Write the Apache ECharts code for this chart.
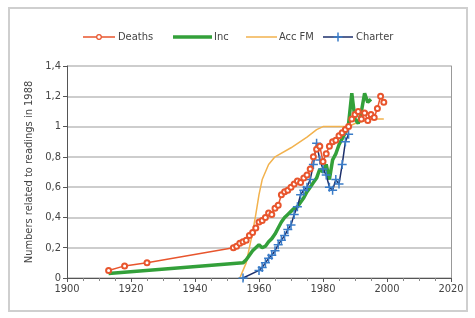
<!DOCTYPE html>
<html><head><meta charset="utf-8">
<script src="https://cdn.jsdelivr.net/npm/echarts@6/dist/echarts.min.js"></script>
<style>html,body{margin:0;padding:0;background:#fff}#c{width:475px;height:318px}</style>
</head><body><div id="c"></div>
<script>
const FONT = '"DejaVu Sans Condensed","Liberation Sans Narrow",sans-serif';
const xTicks = [1900, 1920, 1940, 1960, 1980, 2000, 2020];
const yTicks = [0, 0.2, 0.4, 0.6, 0.8, 1, 1.2, 1.4];
const legendNames = ['Deaths', 'Inc', 'Acc FM', 'Charter'];

const deathsYears = [1913,1918,1925,1952,1953,1954,1955,1956,1957,1958,1959,1960,1961,1962,1963,1964,1965,1966,1967,1968,1969,1970,1971,1972,1973,1974,1975,1976,1977,1978,1979,1980,1981,1982,1983,1984,1985,1986,1987,1988,1989,1990,1991,1992,1993,1994,1995,1996,1997,1998,1999];
const deathsValues = [0.05,0.08,0.10,0.20,0.21,0.23,0.24,0.25,0.28,0.30,0.33,0.37,0.38,0.40,0.43,0.42,0.46,0.48,0.55,0.57,0.58,0.60,0.62,0.64,0.63,0.66,0.68,0.72,0.80,0.85,0.87,0.77,0.82,0.87,0.90,0.91,0.94,0.96,0.98,1.00,1.05,1.08,1.10,1.05,1.09,1.04,1.08,1.06,1.12,1.20,1.16];

const incYears = [1913,1955,1956,1957,1958,1959,1960,1961,1962,1963,1964,1965,1966,1967,1968,1969,1970,1971,1972,1973,1974,1975,1976,1977,1978,1979,1980,1981,1982,1983,1984,1985,1986,1987,1988,1989,1990,1991,1992,1993,1994,1995];
const incValues = [0.03,0.10,0.12,0.15,0.18,0.20,0.22,0.20,0.21,0.24,0.26,0.29,0.33,0.37,0.40,0.42,0.44,0.46,0.47,0.50,0.53,0.57,0.60,0.63,0.66,0.72,0.70,0.75,0.65,0.78,0.82,0.88,0.92,0.96,1.02,1.22,1.05,1.02,1.10,1.22,1.16,1.18];

const accYears = [1954,1956,1957,1958,1959,1960,1961,1963,1965,1970,1975,1978,1980,1988,1990,1995,1999];
const accValues = [0.00,0.10,0.20,0.30,0.42,0.55,0.65,0.75,0.80,0.86,0.93,0.98,1.00,1.00,1.02,1.05,1.05];

const charterYears = [1955,1960,1961,1962,1963,1964,1965,1966,1967,1968,1969,1970,1971,1972,1973,1974,1975,1976,1977,1978,1979,1980,1981,1982,1983,1984,1985,1986,1987,1988];
const charterValues = [0.00,0.05,0.07,0.10,0.13,0.15,0.18,0.22,0.25,0.28,0.32,0.35,0.42,0.47,0.55,0.58,0.60,0.65,0.75,0.89,0.78,0.72,0.68,0.60,0.58,0.65,0.62,0.75,0.90,0.95];

const pair = (xs, ys) => xs.map((x, i) => [x, ys[i]]);
const plusPath = 'path://M0,-10 L0,10 M-10,0 L10,0';

const C_DEATH = '#e8552d', C_INC = '#33a03a', C_ACC = '#f2b24e', C_CH_LINE = '#1c2f6b', C_CH_MARK = '#3a7cc8';

// hand-drawn legend (styling only)
const LY = 37;
const legendText = (x, s) => ({type: 'text', x: x, y: LY, style: {text: s, fill: '#444', font: '11px ' + FONT, textVerticalAlign: 'middle'}});
const legendGraphics = [
  {type: 'rect', shape: {x: 9, y: 8, width: 458, height: 303}, style: {fill: 'none', stroke: '#cfcfcf', lineWidth: 2}},
  {type: 'line', shape: {x1: 83, y1: LY, x2: 115, y2: LY}, style: {stroke: C_DEATH, lineWidth: 1.5}},
  {type: 'circle', shape: {cx: 99, cy: LY, r: 2.3}, style: {fill: '#fff', stroke: C_DEATH, lineWidth: 1.2}},
  legendText(118, legendNames[0]),
  {type: 'line', shape: {x1: 173, y1: LY, x2: 212, y2: LY}, style: {stroke: C_INC, lineWidth: 3.5}},
  legendText(214, legendNames[1]),
  {type: 'line', shape: {x1: 246, y1: LY, x2: 277, y2: LY}, style: {stroke: C_ACC, lineWidth: 1.5}},
  legendText(279, legendNames[2]),
  {type: 'line', shape: {x1: 323, y1: LY, x2: 353, y2: LY}, style: {stroke: C_CH_LINE, lineWidth: 1.5}},
  {type: 'line', shape: {x1: 338, y1: LY - 4.5, x2: 338, y2: LY + 4.5}, style: {stroke: C_CH_MARK, lineWidth: 1.5}},
  {type: 'line', shape: {x1: 333.5, y1: LY, x2: 342.5, y2: LY}, style: {stroke: C_CH_MARK, lineWidth: 1.5}},
  legendText(356, legendNames[3])
];

const chart = echarts.init(document.getElementById('c'), null, {renderer: 'canvas'});
const txt = {color: '#444', fontFamily: FONT, fontSize: 11};
chart.setOption({
  animation: false,
  backgroundColor: '#fff',
  graphic: legendGraphics,
  grid: {left: 67, right: 24, top: 66, bottom: 40},
  xAxis: {
    type: 'value', min: 1900, max: 2020, interval: 20,
    axisLine: {lineStyle: {color: '#555', width: 1}},
    axisTick: {show: true, length: 4, lineStyle: {color: '#555'}},
    minorTick: {show: true, splitNumber: 4, length: 3, lineStyle: {color: '#888'}},
    axisLabel: {...txt, margin: 6, formatter: v => xTicks.includes(v) ? String(v) : ''},
    splitLine: {show: false}
  },
  yAxis: [{
    type: 'value', min: 0, max: 1.4, interval: 0.2,
    name: 'Numbers related to readings in 1988', nameLocation: 'middle', nameGap: 30,
    nameTextStyle: {...txt},
    axisLine: {show: true, lineStyle: {color: '#555'}},
    axisTick: {show: true, length: 4, lineStyle: {color: '#555'}},
    axisLabel: {...txt, margin: 6, formatter: v => {
      const t = yTicks.find(k => Math.abs(k - v) < 1e-6);
      return t === undefined ? '' : String(+t.toFixed(1)).replace('.', ',');
    }},
    splitLine: {show: true, lineStyle: {color: '#bdbdbd', width: 1.5}}
  }, {
    type: 'value', min: 0, max: 1.4, interval: 0.2, position: 'right',
    axisLine: {show: true, lineStyle: {color: '#999'}},
    axisTick: {show: false}, axisLabel: {show: false}, splitLine: {show: false}
  }],
  series: [
    {name: 'Acc FM', type: 'line', data: pair(accYears, accValues), symbol: 'none',
      lineStyle: {color: C_ACC, width: 1.5}, itemStyle: {color: C_ACC}},
    {name: 'Inc', type: 'line', data: pair(incYears, incValues), symbol: 'none',
      lineStyle: {color: C_INC, width: 3.5}, itemStyle: {color: C_INC}},
    {name: 'Charter', type: 'line', data: pair(charterYears, charterValues), symbol: plusPath, symbolSize: 9,
      lineStyle: {color: C_CH_LINE, width: 1.5},
      itemStyle: {color: C_CH_MARK, borderColor: C_CH_MARK, borderWidth: 1.5}},
    {name: 'Deaths', type: 'line', data: pair(deathsYears, deathsValues), symbol: 'emptyCircle', symbolSize: 5,
      lineStyle: {color: C_DEATH, width: 1.5},
      itemStyle: {color: C_DEATH, borderColor: C_DEATH, borderWidth: 1.2}}
  ]
});
</script></body></html>
